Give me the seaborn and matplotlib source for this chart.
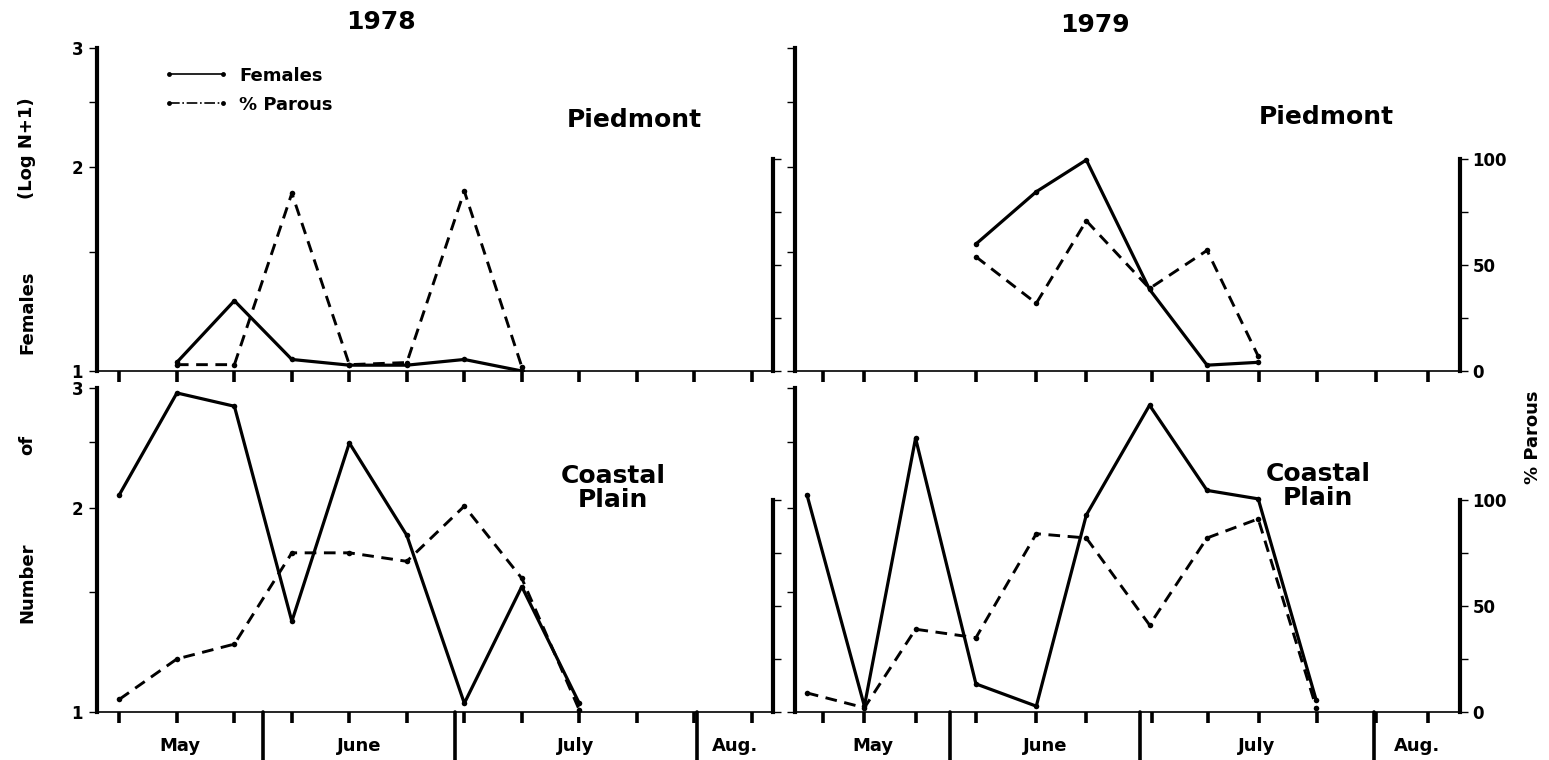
import numpy as np
import pandas as pd
import matplotlib
matplotlib.use("Agg")
import matplotlib.pyplot as plt
import matplotlib.ticker as mticker
from matplotlib.lines import Line2D
import seaborn as sns

nan = np.nan

# ---------------- data ----------------
week_ticks_1978 = [0, 1, 2, 3, 4, 5, 6, 7, 8, 9, 10, 11]
samples_1978 = [0, 1, 2, 3, 4, 5, 6, 7, 8, 9, 10, 11]
week_ticks_1979 = [0, 0.72, 1.61, 2.66, 3.71, 4.58, 5.72, 6.70, 7.59, 8.60, 9.62, 10.53]
samples_1979 = [-0.28, 0.72, 1.61, 2.66, 3.71, 4.58, 5.68, 6.68, 7.57, 8.58]

females_pied_1978 = [nan, 1.03, 1.27, 1.04, 1.02, 1.02, 1.04, 1.00, nan, nan, nan, nan]
parous_pied_1978 = [nan, 3, 3, 84, 3, 4, 85, 2, nan, nan, nan, nan]
females_coast_1978 = [2.09, 2.95, 2.82, 1.36, 2.49, 1.82, 1.03, 1.53, 1.03, nan, nan, nan]
parous_coast_1978 = [6, 25, 32, 75, 75, 71, 97, 63, 1, nan, nan, nan]

females_pied_1979 = [nan, nan, nan, 1.54, 1.84, 2.05, 1.32, 1.02, 1.03, nan]
parous_pied_1979 = [nan, nan, nan, 54, 32, 71, 39, 57, 7, nan]
females_coast_1979 = [2.09, 1.02, 2.53, 1.10, 1.02, 1.95, 2.83, 2.12, 2.06, 1.04]
parous_coast_1979 = [9, 2, 39, 35, 84, 82, 41, 82, 91, 2]

months = ["May", "June", "July", "Aug."]
month_bounds_1978 = [2.50, 5.83, 10.04]
month_bounds_1979 = [2.21, 5.51, 9.58]

log_ticks = [1, 2, 3]
log_minor = [1.5, 2.5]
pct_ticks = [0, 50, 100]
pct_minor = [25, 75]

# ---------------- style ----------------
sns.set_style("ticks", {"axes.edgecolor": "black", "xtick.color": "black",
                        "ytick.color": "black", "text.color": "black"})
plt.rcParams["font.family"] = ["DejaVu Sans"]
plt.rcParams["font.weight"] = "bold"

W, H = 1549, 760
fig = plt.figure(figsize=(W / 100, H / 100), dpi=100)


def fx(px):
    return px / W


def fy(py):
    return 1 - py / H


PCT_FRAC = 0.655  # fraction of axes height at 100 %

# axes boxes in pixels: (left, right, top, bottom)
boxes = {
    (0, 0): (97, 773, 48, 371),
    (0, 1): (795, 1460, 48, 371),
    (1, 0): (97, 773, 388, 712),
    (1, 1): (795, 1460, 388, 712),
}
xlims = {0: (-0.39, 11.37), 1: (-0.487, 11.08)}

panels = {
    (0, 0): (samples_1978, females_pied_1978, parous_pied_1978),
    (1, 0): (samples_1978, females_coast_1978, parous_coast_1978),
    (0, 1): (samples_1979, females_pied_1979, parous_pied_1979),
    (1, 1): (samples_1979, females_coast_1979, parous_coast_1979),
}
ticks_by_col = {0: week_ticks_1978, 1: week_ticks_1979}
bounds_by_col = {0: month_bounds_1978, 1: month_bounds_1979}

axes = {}
for (r, c), (l, rgt, t, b) in boxes.items():
    ax = fig.add_axes([fx(l), fy(b), fx(rgt - l), (b - t) / H])
    axp = ax.twinx()
    axes[(r, c)] = (ax, axp)
    x, fem, par = panels[(r, c)]
    df = pd.DataFrame({"x": x, "fem": fem, "par": par})

    sns.lineplot(data=df.dropna(subset=["fem"]), x="x", y="fem", ax=ax,
                 color="black", lw=2.3, marker="o", ms=4, mew=0,
                 estimator=None, sort=False)
    sns.lineplot(data=df.dropna(subset=["par"]), x="x", y="par", ax=axp,
                 color="black", lw=2.1, ls=(0, (4, 2.6)), marker="o", ms=4,
                 mew=0, estimator=None, sort=False)

    # primary (log) axis
    ax.set_yscale("log")
    ax.set_ylim(1, 3)
    ax.set_xlim(*xlims[c])
    ax.yaxis.set_major_locator(mticker.FixedLocator(log_ticks))
    ax.yaxis.set_minor_locator(mticker.FixedLocator(log_minor))
    ax.yaxis.set_major_formatter(mticker.FuncFormatter(lambda v, p: f"{v:.0f}"))
    ax.yaxis.set_minor_formatter(mticker.NullFormatter())
    ax.set_xticks(ticks_by_col[c])
    ax.set_xticklabels([])
    ax.set_xlabel("")
    ax.set_ylabel("")
    for s in ["top", "right"]:
        ax.spines[s].set_visible(False)
    ax.spines["left"].set_linewidth(3)
    ax.spines["bottom"].set_linewidth(1.2)
    ax.tick_params(axis="x", which="major", direction="out", length=8,
                   width=2.6)
    ax.tick_params(axis="y", which="both", direction="out", length=6,
                   width=1, labelsize=12, pad=4, labelleft=(c == 0))

    # twin (% parous) axis
    axp.set_ylim(0, 100 / PCT_FRAC)
    axp.set_yticks(pct_ticks)
    axp.yaxis.set_minor_locator(mticker.FixedLocator(pct_minor))
    axp.set_ylabel("")
    for s in ["top", "left", "bottom"]:
        axp.spines[s].set_visible(False)
    axp.spines["right"].set_bounds(0, 100)
    axp.spines["right"].set_linewidth(3)
    axp.tick_params(axis="y", which="both", direction="out", length=6,
                    width=1, labelsize=12, pad=3, labelright=(c == 1))
    axp.set_xlim(*xlims[c])

    # month separators and labels on bottom row
    if r == 1:
        trans = ax.get_xaxis_transform()
        for bnd in bounds_by_col[c]:
            ax.axvline(bnd, ymin=-0.15, ymax=0, color="black", lw=2.6,
                       clip_on=False)
        edges = [xlims[c][0]] + bounds_by_col[c] + [xlims[c][1]]
        for i, m in enumerate(months):
            mid = (edges[i] + edges[i + 1]) / 2
            ax.text(mid, -0.105, m, transform=trans, ha="center", va="center",
                    fontsize=13, fontweight="bold")

# ---------------- text ----------------
fig.text(fx(381), fy(22), "1978", ha="center", va="center", fontsize=18,
         fontweight="bold")
fig.text(fx(1095), fy(25), "1979", ha="center", va="center", fontsize=18,
         fontweight="bold")
fig.text(fx(634), fy(120), "Piedmont", ha="center", va="center", fontsize=18,
         fontweight="bold")
fig.text(fx(1326), fy(117), "Piedmont", ha="center", va="center", fontsize=18,
         fontweight="bold")
fig.text(fx(613), fy(488), "Coastal\nPlain", ha="center", va="center",
         fontsize=18, fontweight="bold", linespacing=1.05)
fig.text(fx(1318), fy(486), "Coastal\nPlain", ha="center", va="center",
         fontsize=18, fontweight="bold", linespacing=1.05)

for word, ypx in [("Number", 583), ("of", 445), ("Females", 312), ("(Log N+1)", 148)]:
    fig.text(fx(27), fy(ypx), word, rotation=90, ha="center", va="center",
             fontsize=13, fontweight="bold")
fig.text(fx(1533), fy(437), "% Parous", rotation=90, ha="center", va="center",
         fontsize=13, fontweight="bold")

# legend
handles = [
    Line2D([], [], color="black", lw=1.2, ls="-", marker="o", ms=3.5, mew=0),
    Line2D([], [], color="black", lw=1.2, ls="-.", marker="o", ms=3.5, mew=0),
]
axes[(0, 0)][1].legend(handles, ["Females", "% Parous"], loc="upper left",
                       bbox_to_anchor=(0.085, 0.97), frameon=False, numpoints=2,
                       handlelength=3.6, handletextpad=0.6, labelspacing=0.6,
                       borderpad=0, prop=dict(weight="bold", size=13))

fig.savefig("out.png", dpi=100, facecolor="white")
